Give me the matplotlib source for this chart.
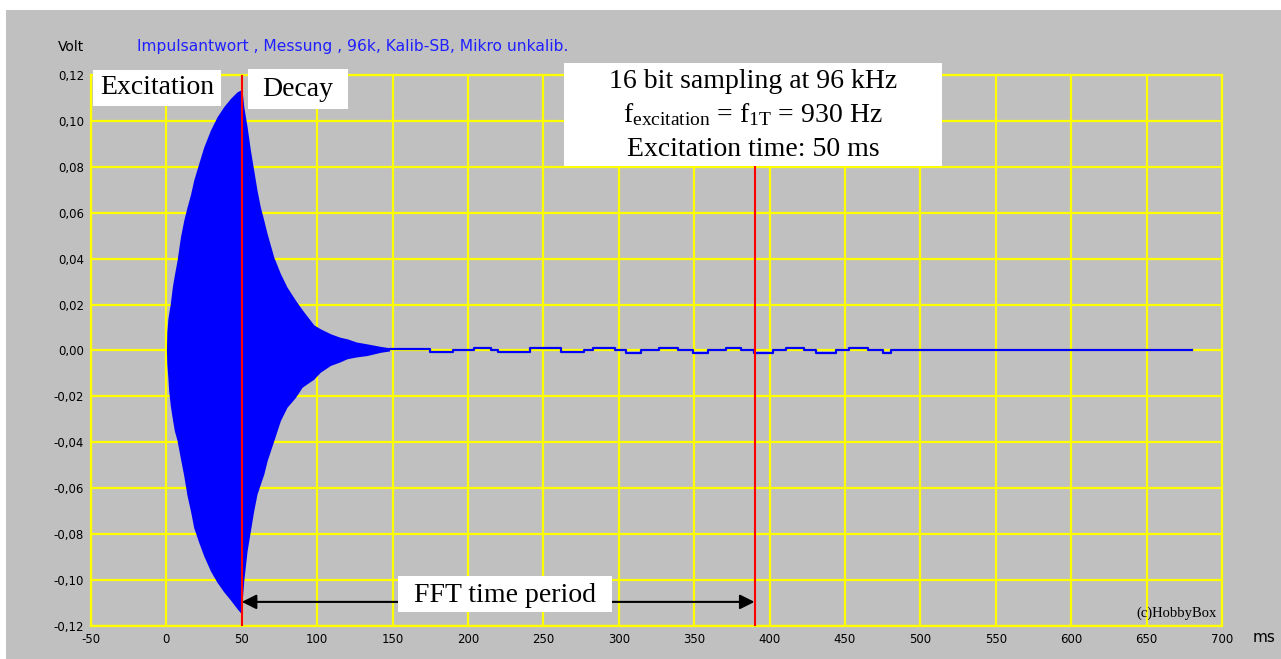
import numpy as np
import matplotlib
matplotlib.use("Agg")
import matplotlib.pyplot as plt
from matplotlib.patches import Rectangle

plt.rcParams['mathtext.fontset'] = 'custom'
plt.rcParams['mathtext.rm'] = 'Liberation Serif'
plt.rcParams['mathtext.it'] = 'Liberation Serif:italic'

# Hüllkurve der Messung (ms, Volt)
t_env = [0, 0.3, 1, 1.5, 2.6, 4, 5.3, 7, 9.3, 11.5, 13.7, 16, 18.1, 21.4, 24.8,
         29.2, 33.6, 38, 42.5, 46.9, 49.5, 50.4, 51.3, 53.5, 55.7, 57.9, 60.1,
         62.3, 64.6, 66.8, 71.2, 75.6, 80, 85.5, 90, 97.7, 102, 108.8, 115,
         119.8, 126, 133, 141.9, 148]
env_oben = [0.0, 0.008, 0.014, 0.016, 0.0205, 0.028, 0.033, 0.039, 0.0494,
            0.0567, 0.0625, 0.068, 0.0742, 0.0814, 0.0887, 0.096, 0.1018,
            0.1062, 0.1098, 0.1127, 0.1135, 0.112, 0.1062, 0.0975, 0.0873,
            0.0785, 0.0698, 0.0625, 0.0567, 0.0509, 0.0407, 0.0335, 0.0276,
            0.022, 0.0178, 0.0112, 0.0095, 0.0073, 0.0058, 0.0051, 0.0037,
            0.0029, 0.0018, 0.0012]
env_unten = [0.0, -0.006, -0.012, -0.0175, -0.024, -0.030, -0.035, -0.039,
             -0.047, -0.0545, -0.0632, -0.070, -0.0771, -0.0835, -0.0895,
             -0.096, -0.101, -0.1051, -0.1087, -0.1125, -0.1145, -0.108,
             -0.1003, -0.0873, -0.0785, -0.0698, -0.0625, -0.0582, -0.0538,
             -0.048, -0.0393, -0.0305, -0.0247, -0.0205, -0.016, -0.0125,
             -0.0095, -0.0065, -0.0050, -0.0036, -0.0028, -0.0022, -0.0008,
             -0.0002]

# Nachlauf (Stufen)
t_rest = [148, 175, 190, 204, 215, 220, 241, 262, 277, 283, 297.7, 305, 315,
          326.5, 339.4, 349.4, 359.4, 370.9, 380.9, 389.5, 402.5, 411, 422.5,
          431.1, 444, 452.6, 465.5, 475.5, 480.4, 680.4]
v_rest = [0.0005, -0.0008, 0.0, 0.001, 0.0, -0.0008, 0.001, -0.0008, 0.0,
          0.001, 0.0, -0.001, 0.0, 0.0012, 0.0, -0.001, 0.0, 0.0012, 0.0,
          -0.001, 0.0, 0.0012, 0.0, -0.001, 0.0, 0.0012, 0.0, -0.001, 0.0, 0.0]

x_ticks = list(range(-50, 701, 50))
y_ticks = [-0.12, -0.10, -0.08, -0.06, -0.04, -0.02, 0.0, 0.02, 0.04, 0.06, 0.08, 0.10, 0.12]
t_marker = [50, 390]

W, H = 1281, 659
fig = plt.figure(figsize=(W / 100, H / 100), dpi=100)
fig.patch.set_facecolor('white')


def px(x, y):
    return x / W, 1 - y / H


fig.patches.append(Rectangle(px(6, H), (W - 6) / W, (H - 10) / H,
                             transform=fig.transFigure, facecolor='#c0c0c0',
                             edgecolor='none', zorder=-5))

ax = fig.add_axes([91 / W, 1 - 626 / H, (1222 - 91) / W, (626 - 75) / H])
ax.set_zorder(1)
ax.set_facecolor('#c0c0c0')
ax.set_xlim(-50, 700)
ax.set_ylim(-0.12, 0.12)

ax.set_xticks(x_ticks)
ax.set_xticklabels([str(v) for v in x_ticks])
ax.set_yticks(y_ticks)
ax.set_yticklabels([('%.2f' % v).replace('.', ',') for v in y_ticks])
ax.tick_params(length=0, labelsize=8.5, pad=5)
ax.grid(True, color='#ffff00', lw=1.6)
ax.set_axisbelow(True)
for s in ax.spines.values():
    s.set_color('#ffff00')
    s.set_linewidth(1.6)

ax.fill_between(t_env, env_unten, env_oben, color='#0000ff', lw=0, zorder=2)
ax.step(t_rest, v_rest, where='post', color='#0000ff', lw=1.6, zorder=2)

for t in t_marker:
    ax.axvline(t, color='#ff0000', lw=1.5, zorder=3)

ax.annotate('', xy=(t_marker[0], -0.1095), xytext=(t_marker[1], -0.1095),
            arrowprops=dict(arrowstyle='<|-|>', color='black', lw=1.5,
                            mutation_scale=22, shrinkA=0, shrinkB=0), zorder=4)

# Textkästen
def kasten(x0, y0, x1, y1):
    fig.patches.append(Rectangle(px(x0, y1), (x1 - x0) / W, (y1 - y0) / H,
                                 transform=fig.transFigure, facecolor='white',
                                 edgecolor='none', zorder=5))


serif = 'Liberation Serif'
kasten(93, 70, 221, 106)
fig.text(*px(157, 88), 'Excitation', family=serif, size=20, ha='center', va='center', zorder=6)
kasten(248, 69, 348, 109)
fig.text(*px(298, 89), 'Decay', family=serif, size=20, ha='center', va='center', zorder=6)
kasten(564, 63, 942, 166)
fig.text(*px(753, 81), '16 bit sampling at 96 kHz', family=serif, size=20,
         ha='center', va='center', zorder=6)
fig.text(*px(753, 115), r'f$_\mathrm{excitation}$ = f$_\mathrm{1T}$ = 930 Hz', family=serif,
         size=20, ha='center', va='center', zorder=6)
fig.text(*px(753, 149), 'Excitation time: 50 ms', family=serif, size=20,
         ha='center', va='center', zorder=6)
kasten(398, 576, 612, 612)
fig.text(*px(505, 595), 'FFT time period', family=serif, size=20, ha='center', va='center', zorder=6)

fig.text(*px(58, 47), 'Volt', size=10, ha='left', va='center')
fig.text(*px(137, 46), 'Impulsantwort , Messung , 96k, Kalib-SB, Mikro unkalib.',
         size=11.2, color='#2020ff', ha='left', va='center')
fig.text(*px(1253, 637), 'ms', size=11, ha='left', va='center')
ax.text(0.995, 0.01, '(c)HobbyBox', transform=ax.transAxes, family=serif, size=10.5,
        ha='right', va='bottom')

fig.savefig('out.png', dpi=100)
